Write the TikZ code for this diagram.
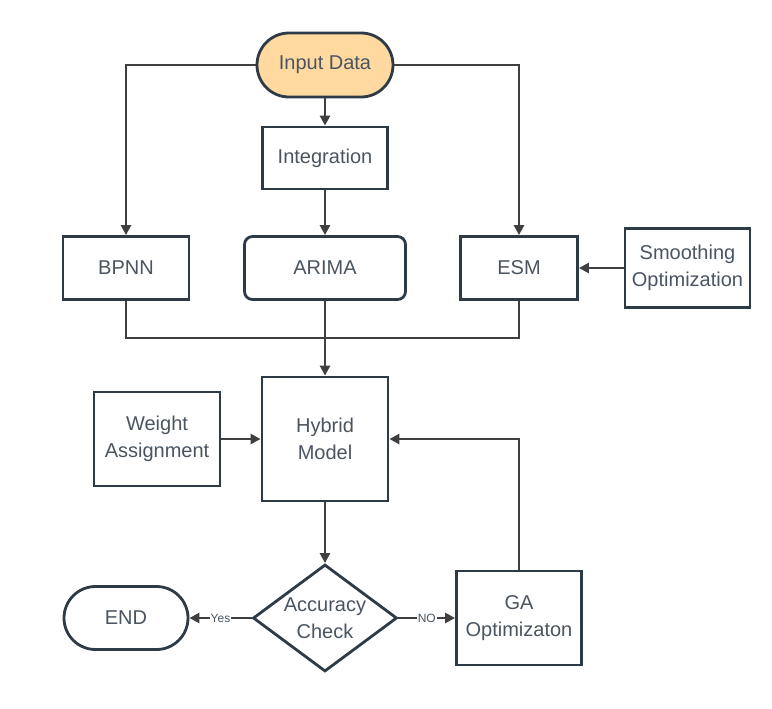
\documentclass[tikz,border=0pt]{standalone}
\usepackage{fontspec}
\setmainfont{Liberation Sans}
\usetikzlibrary{arrows.meta,shapes.geometric}
\definecolor{boxline}{HTML}{2E3A46}
\definecolor{conncol}{HTML}{3F3F3F}
\definecolor{txtcol}{HTML}{4A5561}
\definecolor{inputfill}{HTML}{FFD9A0}
\begin{document}
\begin{tikzpicture}[x=0.5pt,y=-0.5pt,
  base/.style={draw=boxline, line width=1.4pt, text=txtcol, font=\fontsize{10}{13.5}\selectfont, align=center, inner sep=0pt, fill=white},
  box/.style={base, rectangle},
  conn/.style={draw=conncol, line width=1.4pt},
  arr/.style={conn, -{Triangle[length=5pt,width=5pt]}},
  lbl/.style={fill=white, inner sep=0.6pt, text=txtcol, font=\fontsize{6}{7}\selectfont}]
\useasboundingbox (0,0) rectangle (772,708);
\fill[white] (0,0) rectangle (772,708);

\node[base, fill=inputfill, minimum width=68pt, minimum height=32pt, rounded corners=16pt] (input) at (325,65) {Input Data};
\node[box, minimum width=62.5pt, minimum height=31pt] (integ) at (325,158) {Integration};
\node[box, minimum width=63pt, minimum height=31.5pt] (bpnn) at (126,268) {BPNN};
\node[box, minimum width=80.5pt, minimum height=31.5pt, rounded corners=4pt] (arima) at (325,268) {ARIMA};
\node[box, minimum width=58.5pt, minimum height=31.5pt] (esm) at (519,268) {ESM};
\node[box, minimum width=62.5pt, minimum height=39.5pt] (smooth) at (687.5,268) {Smoothing\\Optimization};
\node[box, minimum width=63pt, minimum height=62pt] (hybrid) at (325,439) {Hybrid\\Model};
\node[box, minimum width=63pt, minimum height=47pt] (weight) at (157,439) {Weight\\Assignment};
\node[base, shape=diamond, aspect=1.35, inner sep=-4pt, minimum width=72pt, minimum height=53.5pt] (check) at (325,618) {Accuracy\\Check};
\node[base, minimum width=62pt, minimum height=31.5pt, rounded corners=15.75pt] (end) at (126,618) {END};
\node[box, minimum width=62.5pt, minimum height=47pt] (ga) at (519,618) {GA\\Optimizaton};

\coordinate (merge) at (325,338);

\draw[arr] (input.west) -| (bpnn.north);
\draw[arr] (input.east) -| (esm.north);
\draw[arr] (input) -- (integ);
\draw[arr] (integ) -- (arima);
\draw[arr] (smooth) -- (esm);
\draw[conn] (bpnn.south) |- (merge) -| (esm.south);
\draw[arr] (arima) -- (hybrid);
\draw[arr] (weight) -- (hybrid);
\draw[arr] (hybrid) -- (check);
\draw[arr] (check) -- node[lbl]{Yes} (end);
\draw[arr] (check) -- node[lbl]{NO} (ga);
\draw[arr] (ga.north) |- (hybrid.east);
\end{tikzpicture}
\end{document}
